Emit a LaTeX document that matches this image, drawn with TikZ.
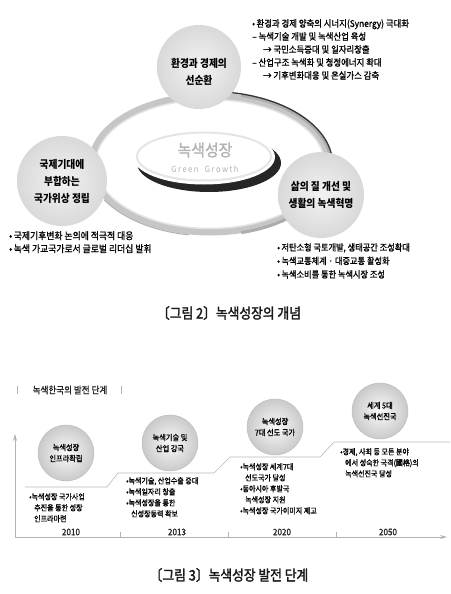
\documentclass[tikz,border=0pt]{standalone}
\usepackage{fontspec}
\setmainfont{Noto Sans CJK KR}[FakeStretch=0.9]
\newfontfamily\medf{Noto Sans CJK KR}[FakeStretch=0.9, FakeBold=1.2]
\newfontfamily\capf{Noto Sans CJK KR}[FakeStretch=0.88, FakeBold=2]
\usetikzlibrary{shapes.geometric,arrows.meta}
\tikzset{
  bigball/.style={circle, minimum size=84pt, inner sep=0pt, inner color=gray!10, outer color=gray!30, align=center, text=black, font=\fontsize{10.8}{17}\selectfont\bfseries},
  smallball/.style={circle, minimum size=56pt, inner sep=0pt, inner color=gray!4, outer color=gray!42, draw=gray!55, line width=0.4pt, align=center, text=black, font=\medf\fontsize{8}{11}\selectfont},
  bul2/.style={anchor=north west, align=left, inner sep=0pt, text=black, font=\medf\fontsize{9.3}{13}\selectfont},
  bul3/.style={anchor=north west, align=left, inner sep=0pt, text=black, font=\medf\fontsize{7.8}{11}\selectfont},
  caption/.style={font=\capf\fontsize{14.5}{16}\selectfont, text=black!90},
  yearlab/.style={font=\medf\fontsize{9}{10}\selectfont, text=black!85},
  stair/.style={draw=gray!55, line width=0.6pt},
  axis/.style={draw=gray!60, line width=0.7pt, -{Stealth[length=7pt,width=4pt]}},
}
\begin{document}
\begin{tikzpicture}[x=1pt,y=-1pt]
\useasboundingbox[fill=white] (0,0) rectangle (450,594);

% ===================== Figure 2 =====================
% ring
\draw[gray!45, line width=7pt] (210,164) ellipse [x radius=118pt, y radius=68pt];
\draw[gray!22, line width=1.5pt] (210,164) ellipse [x radius=114.5pt, y radius=64.5pt];
\draw[gray!65, line width=3pt] (210,164) ++(75:121pt and 71pt) arc [start angle=75, end angle=-75, x radius=121pt, y radius=71pt];
\draw[black!80, line width=1.3pt] (210,164) ++(80:122.5pt and 72.5pt) arc [start angle=80, end angle=-40, x radius=122.5pt, y radius=72.5pt];
\draw[gray!60, line width=1pt] (210,164) ++(-100:122pt and 72pt) arc [start angle=-100, end angle=-150, x radius=122pt, y radius=72pt];
% inner ellipse
\fill[black!85] (209,163) ellipse [x radius=72pt, y radius=29pt];
\fill[white] (204,157) ellipse [x radius=71pt, y radius=27.5pt];
\draw[gray!20, line width=2pt] (204,156.5) ellipse [x radius=67pt, y radius=24pt];
\node[font=\medf\fontsize{16.5}{18}\selectfont, text=gray!60] (gg) at (205,150) {녹색성장};
\node[font=\fontsize{8.5}{10}\selectfont, text=gray!60] (ggen) at (205,169) {G\,r\,e\,e\,n\;\; G\,r\,o\,w\,t\,h};

% circles
\node[bigball] (c1) at (199,67) {};
\node[font=\fontsize{10.8}{17}\selectfont\bfseries, text=black, align=center] (c1t) at (199,71.5) {환경과 경제의\\선순환};
\node[bigball, minimum size=90pt] (c2) at (62,181) {국제기대에\\부합하는\\국가위상 정립};
\node[bigball, minimum size=86pt] (c3) at (321,195) {삶의 질 개선 및\\생활의 녹색혁명};

% bullet texts
\node[bul2] (t1) at (252,19) {•\,환경과 경제 양축의 시너지(Synergy) 극대화\\
– 녹색기술 개발 및 녹색산업 육성\\
\hspace{11pt}→ 국민소득증대 및 일자리창출\\
– 산업구조 녹색화 및 청정에너지 확대\\
\hspace{11pt}→ 기후변화대응 및 온실가스 감축};
\node[bul2, font=\medf\fontsize{9.8}{13}\selectfont] (t2) at (9,231) {•\,국제기후변화 논의에 적극적 대응\\•\,녹색 가교국가로서 글로벌 리더십 발휘};
\node[bul2, font=\medf\fontsize{9.1}{13.5}\selectfont] (t3) at (277,243) {•\,저탄소형 국토개발, 생태공간 조성확대\\•\,녹색교통체계 · 대중교통 활성화\\•\,녹색소비를 통한 녹색시장 조성};

\node[caption] (cap2) at (229,313) {〔그림 2〕녹색성장의 개념};

% ===================== Figure 3 =====================
\node[font=\medf\fontsize{9.5}{11}\selectfont, text=black!85] (hdr) at (70,390) {녹색한국의 발전 단계};
\draw[gray!60, line width=0.5pt] (17,386) -- (17,394);
\draw[gray!60, line width=0.5pt] (121,386) -- (121,394);

% axes
\coordinate (org) at (15,537);
\coordinate (ytop) at (15,434);
\coordinate (xend) at (447,537);
\draw[axis] (org) -- (ytop);
\draw[axis] (org) -- (xend);
\foreach \tx in {120,228,336} \draw[gray!60, line width=0.5pt] (\tx,532) -- (\tx,537);

% stairs
\draw[stair] (25,487) -- (107,487) -- (118,473) -- (214,473) -- (230,457) -- (320,457) -- (334,442) -- (450,442);

% balls
\node[smallball] (b1) at (66,453) {녹색성장\\인프라확립};
\node[smallball] (b2) at (170,443) {녹색기술 및\\산업 강국};
\node[smallball] (b3) at (275,427) {녹색성장\\7대 선도 국가};
\node[smallball] (b4) at (380,411) {세계 5대\\녹색선진국};

% stage texts
\node[bul3] (s1) at (29,493) {•녹색성장 국가사업\\\hspace{5pt}추진을 통한 성장\\\hspace{5pt}인프라마련};
\node[bul3] (s2) at (126,477) {•녹색기술, 산업수출 증대\\•녹색일자리 창출\\•녹색성장을 통한\\\hspace{5pt}신성장동력 확보};
\node[bul3] (s3) at (240,463) {•녹색성장 세계7대\\\hspace{5pt}선도국가 달성\\•동아시아 후발국\\\hspace{5pt}녹색성장 지원\\•녹색성장 국가이미지 제고};
\node[bul3] (s4) at (340,448) {•경제, 사회 등 모든 분야\\\hspace{5pt}에서 성숙한 국격(國格)의\\\hspace{5pt}녹색선진국 달성};

% years
\node[yearlab] (y1) at (71,532) {2010};
\node[yearlab] (y2) at (177,532) {2013};
\node[yearlab] (y3) at (282,532) {2020};
\node[yearlab] (y4) at (388,532) {2050};

\node[caption] (cap3) at (229,575) {〔그림 3〕녹색성장 발전 단계};
\end{tikzpicture}
\end{document}
